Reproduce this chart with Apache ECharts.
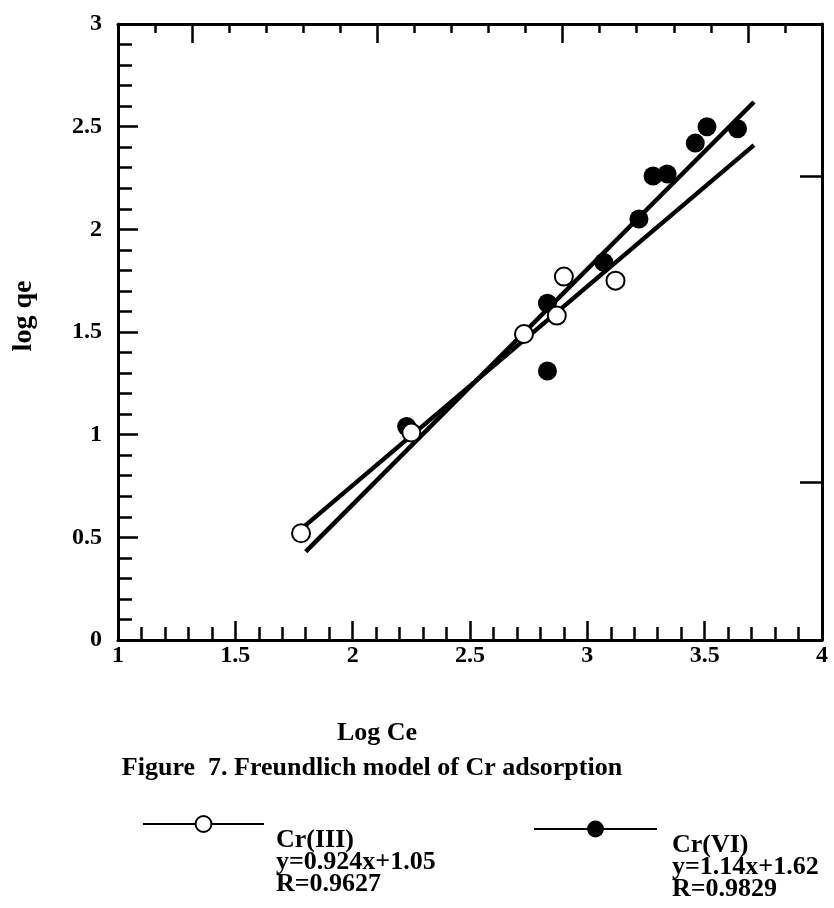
<!DOCTYPE html>
<html><head><meta charset="utf-8">
<script src="https://cdn.jsdelivr.net/npm/echarts@6/dist/echarts.min.js"></script>
<style>html,body{margin:0;padding:0;background:#fff}#c{width:834px;height:908px}</style>
</head><body><div id="c"></div>
<script>
// ---- data ----
const crIII_x = [1.78, 2.25, 2.73, 2.87, 2.90, 3.12];
const crIII_y = [0.52, 1.01, 1.49, 1.58, 1.77, 1.75];
const crVI_x = [2.23, 2.83, 2.83, 3.07, 3.22, 3.28, 3.34, 3.46, 3.51, 3.64];
const crVI_y = [1.04, 1.31, 1.64, 1.84, 2.05, 2.26, 2.27, 2.42, 2.50, 2.49];
const fitIII_x = [1.78, 3.71];
const fitIII_y = [0.54, 2.41];
const fitVI_x = [1.80, 3.71];
const fitVI_y = [0.43, 2.62];
const legendIII = ['Cr(III)', 'y=0.924x+1.05', 'R=0.9627'];
const legendVI = ['Cr(VI)', 'y=1.14x+1.62', 'R=0.9829'];
const xName = 'Log Ce';
const yName = 'log qe';
const caption = 'Figure  7. Freundlich model of Cr adsorption';
const topMajorTicks = [2, 7, 12, 17];
const rightTicks = [0.77, 2.26];

const zip = (a, b) => a.map((v, i) => [v, b[i]]);
const F = 'Liberation Serif';
const K = '#000';
const txt = (size) => ({fontFamily: F, fontWeight: 'bold', fontSize: size, color: K});
const axisLine = {show: true, onZero: false, lineStyle: {color: K, width: 3}};
const tickLS = {color: K, width: 2.5};
const legendFmt = (lines) => () => '{s| }\n' + lines.map(l => '{t|' + l + '}').join('\n');
const legendText = (padLeft) => ({
  rich: {
    s: {fontSize: 2, lineHeight: 76},
    t: Object.assign(txt(26), {lineHeight: 22, padding: [0, 0, 0, padLeft]})
  }
});

const chart = echarts.init(document.getElementById('c'));
chart.setOption({
  animation: false,
  backgroundColor: '#fff',
  grid: {left: 118, right: 12, top: 24, bottom: 268},
  title: {text: caption, left: 372, top: 755, textAlign: 'center', padding: 0, textStyle: txt(26)},
  legend: [
    {data: [legendIII[0]], left: 142, top: 790, padding: 0, itemWidth: 121, itemHeight: 20,
     lineStyle: {width: 2, color: K},
     formatter: legendFmt(legendIII), textStyle: legendText(7)},
    {data: [legendVI[0]], left: 533, top: 795, padding: 0, itemWidth: 123, itemHeight: 21,
     lineStyle: {width: 2, color: K},
     formatter: legendFmt(legendVI), textStyle: legendText(10)}
  ],
  xAxis: [
    {type: 'value', position: 'bottom', min: 1, max: 4, interval: 0.5,
     axisLine: axisLine,
     axisTick: {inside: true, length: 19, lineStyle: tickLS},
     minorTick: {show: true, splitNumber: 5, length: 13, lineStyle: tickLS},
     splitLine: {show: false},
     axisLabel: Object.assign(txt(24), {margin: 4}),
     name: xName, nameLocation: 'middle', nameGap: 80,
     nameTextStyle: Object.assign(txt(26), {padding: [0, 186, 0, 0]})},
    {type: 'value', position: 'top', min: 0, max: 19, interval: 1,
     axisLine: axisLine,
     axisTick: {inside: true, length: 9, lineStyle: tickLS},
     axisLabel: {show: false}, splitLine: {show: false}},
    {type: 'value', position: 'top', min: 0, max: 19,
     axisLine: {show: false, onZero: false},
     axisTick: {inside: true, length: 19, lineStyle: tickLS, customValues: topMajorTicks},
     axisLabel: {show: false}, splitLine: {show: false}}
  ],
  yAxis: [
    {type: 'value', position: 'left', min: 0, max: 3, interval: 0.5,
     axisLine: axisLine,
     axisTick: {inside: true, length: 20, lineStyle: tickLS},
     minorTick: {show: true, splitNumber: 5, length: 14, lineStyle: tickLS},
     splitLine: {show: false},
     axisLabel: Object.assign(txt(24), {margin: 16}),
     name: yName, nameLocation: 'middle', nameGap: 80,
     nameTextStyle: Object.assign(txt(28), {padding: [0, 0, 0, 32]})},
    {type: 'value', position: 'right', min: 0, max: 3,
     axisLine: axisLine,
     axisTick: {inside: true, length: 22, lineStyle: tickLS, customValues: rightTicks},
     axisLabel: {show: false}, splitLine: {show: false}}
  ],
  series: [
    {name: legendIII[0], type: 'line', data: zip(fitIII_x, fitIII_y), symbol: 'emptyCircle', showSymbol: false,
     lineStyle: {width: 4.5, color: K}, itemStyle: {color: K}, z: 2},
    {name: legendVI[0], type: 'line', data: zip(fitVI_x, fitVI_y), symbol: 'circle', showSymbol: false,
     lineStyle: {width: 4.5, color: K}, itemStyle: {color: K}, z: 2},
    {name: legendVI[0], type: 'scatter', data: zip(crVI_x, crVI_y), symbol: 'circle', symbolSize: 19,
     itemStyle: {color: K, opacity: 1}, z: 3},
    {name: legendIII[0], type: 'scatter', data: zip(crIII_x, crIII_y), symbol: 'circle', symbolSize: 18,
     itemStyle: {color: '#fff', borderColor: K, borderWidth: 2, opacity: 1}, z: 4}
  ]
});
</script></body></html>
